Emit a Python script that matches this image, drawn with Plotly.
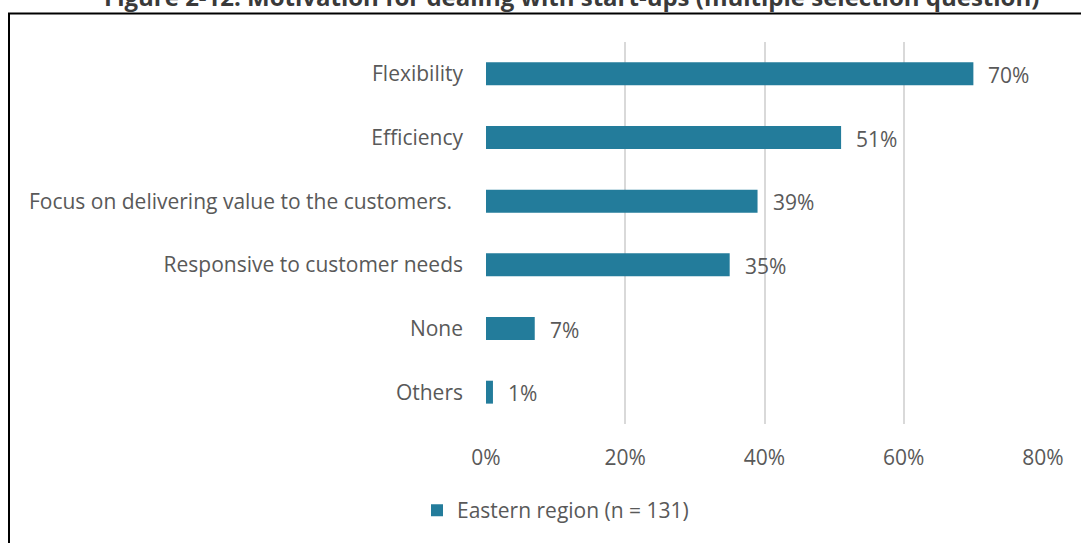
import plotly.graph_objects as go

# Survey results: motivation for dealing with start-ups
categories = [
    "Flexibility",
    "Efficiency",
    "Focus on delivering value to the customers.\u00a0\u00a0",
    "Responsive to customer needs",
    "None",
    "Others",
]
values = [70, 51, 39, 35, 7, 1]
series_name = "Eastern region (n = 131)"
x_ticks = [0, 20, 40, 60, 80]
x_tick_labels = ["0%", "20%", "40%", "60%", "80%"]
title_text = "Figure 2-12: Motivation for dealing with start-ups (multiple selection question)"

BAR_COLOR = "#237C9B"
TEXT_COLOR = "#595959"
FONT = "Open Sans, sans-serif"
FS = 21

W, H = 1081, 543
ML, MR, MT, MB = 486, 38, 42, 113
pw, ph = W - ML - MR, H - MT - MB

fig = go.Figure()
fig.add_trace(go.Bar(
    x=values, y=categories, orientation="h",
    marker=dict(color=BAR_COLOR, line=dict(width=0)),
    name=series_name, showlegend=True,
))

# value labels beside each bar
for v, c in zip(values, categories):
    fig.add_annotation(x=v, y=c, text=f"{v}%", xanchor="left", yanchor="middle",
                       xshift=13, yshift=-1, showarrow=False,
                       font=dict(family=FONT, size=FS, color=TEXT_COLOR))

# figure title, partly above the visible page
fig.add_annotation(xref="paper", yref="paper",
                   x=(571 - ML) / pw, y=1 + (MT - 15) / ph,
                   xanchor="center", yanchor="bottom",
                   text=f"<b>{title_text}</b>", showarrow=False,
                   font=dict(family="Open Sans, sans-serif", size=24, color="#3A3A3A"))

# page frame
fig.add_shape(type="rect", xref="paper", yref="paper",
              x0=(9 - ML) / pw, x1=(W + 20 - ML) / pw,
              y0=-(H + 20 - MT - ph) / ph, y1=1 + (MT - 13) / ph,
              line=dict(color="black", width=2), fillcolor="rgba(0,0,0,0)")

fig.update_layout(
    width=W, height=H,
    margin=dict(l=ML, r=MR, t=MT, b=MB),
    paper_bgcolor="white", plot_bgcolor="white",
    bargap=0.64,
    font=dict(family=FONT, size=FS, color=TEXT_COLOR),
    xaxis=dict(range=[0, 80], tickvals=x_ticks, ticktext=x_tick_labels,
               showgrid=True, gridcolor="#D9D9D9", gridwidth=2,
               zeroline=False, showline=False, ticks="",
               ticklabelstandoff=19, fixedrange=True),
    yaxis=dict(autorange="reversed", showgrid=False, zeroline=False,
               showline=False, ticks="", ticklabelstandoff=22),
    legend=dict(orientation="h", x=(417 - ML) / pw, xanchor="left",
                y=-(518 - MT - ph) / ph, yanchor="middle",
                font=dict(family=FONT, size=FS, color=TEXT_COLOR),
                itemwidth=30),
)

fig.write_html("out.html")
